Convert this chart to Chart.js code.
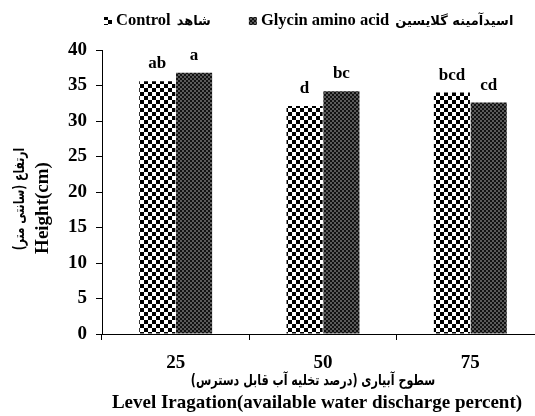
<!DOCTYPE html>
<html><head><meta charset="utf-8">
<script src="https://cdn.jsdelivr.net/npm/chart.js@4"></script>
<style>html,body{margin:0;padding:0;background:#fff;overflow:hidden;width:535px;height:416px}canvas{display:block}</style>
</head><body>
<canvas id="c" width="548" height="416"></canvas>
<script>
const categories = ['25', '50', '75'];
const seriesNames = ['Control', 'Glycin amino acid'];
const seriesNamesFa = ['شاهد', 'اسیدآمینه گلایسین'];
const controlValues = [35.6, 32.1, 34.0];
const glycinValues = [36.8, 34.2, 32.6];
const controlLetters = ['ab', 'd', 'bcd'];
const glycinLetters = ['a', 'bc', 'cd'];
const yTicks = [0, 5, 10, 15, 20, 25, 30, 35, 40];
const yTitle = ['ارتفاع (سانتی متر)', 'Height(cm)'];
const xTitle = ['سطوح آبیاری (درصد تخلیه آب قابل دسترس)', 'Level Iragation(available water discharge percent)'];

const FONT = "'Liberation Serif', 'DejaVu Serif', serif";
const FA_FONT = "'DejaVu Sans', sans-serif";

function makePattern(size, draw) {
  const c = document.createElement('canvas');
  c.width = size; c.height = size;
  const g = c.getContext('2d');
  draw(g);
  return g.createPattern(c, 'repeat');
}
const ctx = document.getElementById('c').getContext('2d');
const controlPattern = makePattern(8, g => {
  g.fillStyle = '#fff'; g.fillRect(0, 0, 8, 8);
  g.fillStyle = '#000'; g.fillRect(0, 0, 4, 4); g.fillRect(4, 4, 4, 4);
});
const glycinPattern = makePattern(4, g => {
  g.fillStyle = '#111'; g.fillRect(0, 0, 4, 4);
  g.fillStyle = '#5a5a5a'; g.fillRect(0, 0, 2, 2); g.fillRect(2, 2, 2, 2);
});

const letterPlugin = {
  id: 'letters',
  afterDatasetsDraw(chart) {
    const c = chart.ctx;
    c.save();
    c.font = "bold 17px " + FONT;
    c.fillStyle = '#000';
    c.textAlign = 'center';
    c.textBaseline = 'alphabetic';
    const sets = [controlLetters, glycinLetters];
    chart.data.datasets.forEach((ds, i) => {
      chart.getDatasetMeta(i).data.forEach((bar, j) => {
        c.fillText(sets[i][j], bar.x, bar.y - 13);
      });
    });
    c.restore();
  }
};

const legendPlugin = {
  id: 'customLegend',
  afterDraw(chart) {
    const c = chart.ctx;
    c.save();
    c.textBaseline = 'middle';
    c.textAlign = 'left';
    let x = chart.chartArea.left + 2;
    const y = 21;
    chart.data.datasets.forEach((ds, i) => {
      c.fillStyle = ds.backgroundColor;
      c.fillRect(x, y - 4, 8, 8);
      c.fillStyle = '#000';
      c.direction = 'ltr';
      c.font = "bold 16.5px " + FONT;
      c.fillText(ds.label, x + 12, y);
      const w = c.measureText(ds.label).width;
      c.font = "bold 13px " + FA_FONT;
      c.direction = 'rtl';
      c.textAlign = 'left';
      const fa = seriesNamesFa[i];
      const wfa = c.measureText(fa).width;
      c.fillText(fa, x + 12 + w + 6, y + 1);
      c.direction = 'ltr';
      x += 12 + w + 6 + wfa + 38;
    });
    c.restore();
  }
};

const titlePlugin = {
  id: 'axisTitles',
  afterDraw(chart) {
    const c = chart.ctx;
    const a = chart.chartArea;
    const cx = (a.left + a.right) / 2;
    const cy = (a.top + a.bottom) / 2;
    c.fillStyle = '#000';
    c.textAlign = 'center';
    c.textBaseline = 'middle';
    // x title, Persian line
    c.save();
    c.translate(cx - 10, a.bottom + 47);
    c.scale(0.74, 1);
    c.direction = 'rtl';
    c.font = "bold 15px " + FA_FONT;
    c.fillText(xTitle[0], 0, 0);
    c.restore();
    // x title, English line
    c.save();
    c.direction = 'ltr';
    c.font = "bold 19px " + FONT;
    c.fillText(xTitle[1], cx - 6, a.bottom + 69);
    c.restore();
    // y title, Persian line
    c.save();
    c.translate(20, cy + 7);
    c.rotate(-Math.PI / 2);
    c.scale(0.72, 1);
    c.direction = 'rtl';
    c.font = "bold 15px " + FA_FONT;
    c.fillText(yTitle[0], 0, 0);
    c.restore();
    // y title, English line
    c.save();
    c.translate(43, cy + 16);
    c.rotate(-Math.PI / 2);
    c.direction = 'ltr';
    c.font = "bold 19px " + FONT;
    c.fillText(yTitle[1], 0, 0);
    c.restore();
  }
};

new Chart(ctx, {
  type: 'bar',
  data: {
    labels: categories,
    datasets: [
      { label: seriesNames[0], data: controlValues, backgroundColor: controlPattern, borderWidth: 0 },
      { label: seriesNames[1], data: glycinValues, backgroundColor: glycinPattern, borderWidth: 0 }
    ]
  },
  options: {
    responsive: false,
    animation: false,
    datasets: { bar: { categoryPercentage: 0.5, barPercentage: 0.98 } },
    layout: { padding: { top: 50, right: 4, left: 59, bottom: 29 } },
    plugins: {
      legend: { display: false },
      tooltip: { enabled: false }
    },
    scales: {
      x: {
        grid: { display: true, drawOnChartArea: false, offset: true, color: '#000', tickLength: 6, tickWidth: 1 },
        border: { color: '#000', width: 1 },
        ticks: { color: '#000', font: { family: FONT, size: 19, weight: 'bold', lineHeight: 1.0 }, padding: 14 },
        title: { display: false }
      },
      y: {
        min: 0, max: 40,
        afterBuildTicks: axis => { axis.ticks = yTicks.map(v => ({ value: v })); },
        grid: { display: true, drawOnChartArea: false, color: '#000', tickLength: 6 },
        border: { color: '#000', width: 1 },
        ticks: { color: '#000', font: { family: FONT, size: 19, weight: 'bold' }, padding: 9 },
        title: { display: false }
      }
    }
  },
  plugins: [letterPlugin, legendPlugin, titlePlugin]
});
</script>
</body></html>
